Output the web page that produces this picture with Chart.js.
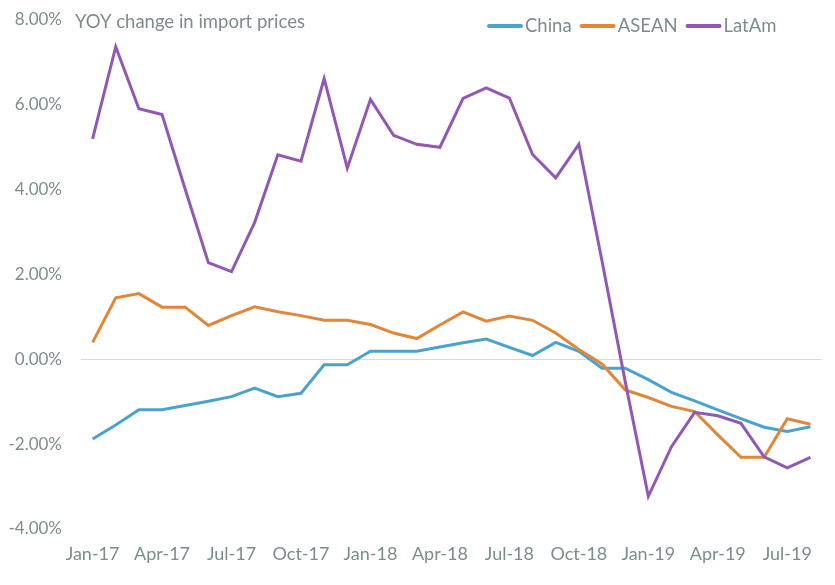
<!DOCTYPE html>
<html>
<head>
<meta charset="utf-8">
<script src="https://cdn.jsdelivr.net/npm/chart.js@4.4.1/dist/chart.umd.min.js"></script>
<style>
    html, body { margin: 0; padding: 0; background: #ffffff; }
    #wrap { width: 835px; height: 585px; }
</style>
</head>
<body>
<div id="wrap"><canvas id="importChart" width="835" height="585"></canvas></div>
<script>
// Datos (variacion interanual, %)
const meses = [
    'Jan-17', 'Feb-17', 'Mar-17', 'Apr-17', 'May-17', 'Jun-17', 'Jul-17', 'Aug-17',
    'Sep-17', 'Oct-17', 'Nov-17', 'Dec-17', 'Jan-18', 'Feb-18', 'Mar-18', 'Apr-18',
    'May-18', 'Jun-18', 'Jul-18', 'Aug-18', 'Sep-18', 'Oct-18', 'Nov-18', 'Dec-18',
    'Jan-19', 'Feb-19', 'Mar-19', 'Apr-19', 'May-19', 'Jun-19', 'Jul-19', 'Aug-19'
];

const china = [
    -1.88, -1.55, -1.19, -1.19, -1.09, -0.99, -0.88, -0.68,
    -0.88, -0.80, -0.13, -0.13, 0.19, 0.19, 0.19, 0.29,
    0.39, 0.48, 0.28, 0.09, 0.40, 0.19, -0.21, -0.21,
    -0.48, -0.78, -0.98, -1.19, -1.40, -1.60, -1.70, -1.59
];

const asean = [
    0.40, 1.45, 1.55, 1.23, 1.23, 0.80, 1.03, 1.24,
    1.12, 1.03, 0.92, 0.92, 0.82, 0.62, 0.49, 0.81,
    1.12, 0.90, 1.02, 0.92, 0.62, 0.23, -0.11, -0.72,
    -0.90, -1.11, -1.23, -1.78, -2.31, -2.31, -1.40, -1.53
];

const latam = [
    5.20, 7.37, 5.91, 5.77, 4.01, 2.28, 2.07, 3.23,
    4.82, 4.67, 6.62, 4.51, 6.13, 5.28, 5.07, 5.00,
    6.15, 6.40, 6.16, 4.83, 4.28, 5.07, 2.32, -0.52,
    -3.23, -2.06, -1.25, -1.33, -1.51, -2.30, -2.56, -2.31
];

const yTicks = [8, 6, 4, 2, 0, -2, -4];

const grisTexto = '#7f8c8d';
const fuente = 'Lato, "Open Sans", sans-serif';

// titulo y leyenda dibujados a mano para no mover el area del grafico
const tituloYLeyenda = {
    id: 'tituloYLeyenda',
    afterDraw(chart) {
        const ctx = chart.ctx;
        ctx.save();
        ctx.fillStyle = grisTexto;
        ctx.font = '18.5px ' + fuente;
        ctx.textBaseline = 'middle';
        ctx.textAlign = 'left';
        ctx.fillText('YOY change in import prices', 75, 22);

        let x = 489;
        const y = 26;
        chart.data.datasets.forEach(function (ds) {
            ctx.strokeStyle = ds.borderColor;
            ctx.lineWidth = 4;
            ctx.lineCap = 'round';
            ctx.beginPath();
            ctx.moveTo(x, y);
            ctx.lineTo(x + 32, y);
            ctx.stroke();
            x += 36;
            ctx.fillStyle = grisTexto;
            ctx.fillText(ds.label, x, y);
            x += ctx.measureText(ds.label).width + 10;
        });
        ctx.restore();
    }
};

document.addEventListener('DOMContentLoaded', function () {
    var ctx = document.getElementById('importChart').getContext('2d');

    var myChart = new Chart(ctx, {
        type: 'line',
        data: {
            labels: meses,
            datasets: [
                { label: 'China', data: china, borderColor: '#4aa3ce', order: 3 },
                { label: 'ASEAN', data: asean, borderColor: '#e0873a', order: 2 },
                { label: 'LatAm', data: latam, borderColor: '#9158b5', order: 1 }
            ]
        },
        options: {
            responsive: false,
            animation: false,
            layout: { padding: { top: 20, right: 13, bottom: 0, left: 0 } },
            elements: {
                line: { borderWidth: 3, tension: 0, fill: false },
                point: { radius: 0 }
            },
            plugins: {
                legend: { display: false },
                tooltip: { enabled: false }
            },
            scales: {
                x: {
                    offset: true,
                    grid: { display: false },
                    border: { display: false },
                    ticks: {
                        autoSkip: false,
                        maxRotation: 0,
                        padding: 6,
                        color: grisTexto,
                        font: { family: fuente, size: 18 },
                        callback: function (value, index) {
                            return index % 3 === 0 ? meses[index] : '';
                        }
                    },
                    afterFit: function (scale) { scale.height = 56; }
                },
                y: {
                    min: -4,
                    max: 8,
                    afterBuildTicks: function (scale) {
                        scale.ticks = yTicks.map(function (v) { return { value: v }; });
                    },
                    border: { display: false },
                    grid: {
                        drawTicks: true,
                        tickLength: 19,
                        tickColor: 'rgba(0,0,0,0)',
                        lineWidth: 1,
                        color: function (c) {
                            return c.tick && c.tick.value === 0 ? '#d9d9d9' : 'rgba(0,0,0,0)';
                        }
                    },
                    ticks: {
                        padding: 0,
                        color: grisTexto,
                        font: { family: fuente, size: 17 },
                        callback: function (value) { return value.toFixed(2) + '%'; }
                    },
                    afterFit: function (scale) { scale.width = 81; }
                }
            }
        },
        plugins: [tituloYLeyenda]
    });
});
</script>
</body>
</html>
